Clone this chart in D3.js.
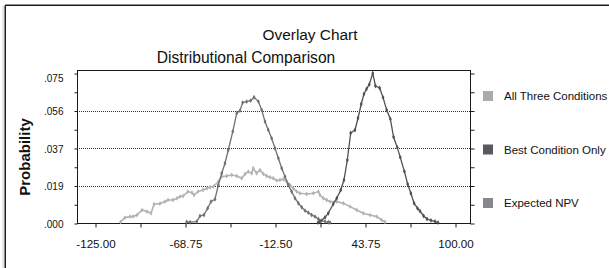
<!DOCTYPE html>
<html><head><meta charset="utf-8">
<script src="https://cdn.jsdelivr.net/npm/d3@7"></script>
<style>
html,body{margin:0;padding:0;background:#fff;}
svg{display:block;font-family:"Liberation Sans",Arial,sans-serif;}
</style></head>
<body>
<svg id="chart" width="609" height="268"></svg>
<script>
// ---------- data ----------
const chartTitle = "Overlay Chart";
const chartSubtitle = "Distributional Comparison";
const yAxisTitle = "Probability";
const seriesNames = ["All Three Conditions", "Best Condition Only", "Expected NPV"];
const xTickValues = [-125, -96.875, -68.75, -40.625, -12.5, 15.625, 43.75, 71.875, 100];
const xTickLabels = ["-125.00", "-68.75", "-12.50", "43.75", "100.00"];
const yTickValues = [0, 0.009375, 0.01875, 0.028125, 0.0375, 0.046875, 0.05625, 0.065625, 0.075];
const yTickLabels = [".000", ".019", ".037", ".056", ".075"];
const gridValues = [0.01875, 0.0375, 0.05625];

// All Three Conditions: [value, probability]
const allThree = [
 [-109,0.0005],[-106.25,0.0027],[-103.1,0.0032],[-101.25,0.0032],[-98.75,0.004],[-95.6,0.0065],
 [-92.5,0.0057],[-90,0.0049],[-88.1,0.0094],[-84.4,0.0097],[-81.25,0.0107],[-79.4,0.0115],
 [-76.25,0.0115],[-73.75,0.0124],[-71.9,0.0132],[-70,0.0135],[-66.9,0.0157],[-64.4,0.0152],
 [-63.1,0.014],[-60.6,0.0157],[-57.5,0.0165],[-55,0.0174],[-53.1,0.0179],[-51.1,0.0182],
 [-47.9,0.0207],[-45.8,0.0232],[-42.7,0.0235],[-39.6,0.024],[-36.4,0.0235],[-33.3,0.0224],
 [-31.25,0.0245],[-29.2,0.0257],[-27.1,0.0249],[-26.1,0.0274],[-24,0.0249],[-21.9,0.0265],
 [-19.8,0.0245],[-17.7,0.0235],[-15.6,0.0229],[-13.6,0.0224],[-11.4,0.0212],[-9.4,0.0215],
 [-7.3,0.0219],[-5.2,0.0207],[-3.1,0.019],[-1.1,0.0174],[1.1,0.0157],[3.1,0.0149],
 [7.3,0.0145],[11.4,0.0149],[14.6,0.0157],[15.6,0.014],[17.7,0.0124],[19.8,0.0115],
 [21.9,0.0107],[26.1,0.0107],[30.2,0.0099],[34.4,0.0082],[38.6,0.0065],[42.7,0.0049],
 [46.9,0.004],[51.1,0.0032],[54.2,0.0015],[56.25,0.0005]
];
// Best Condition Only
const bestOnly = [
 [14.4,0.0002],[15.6,0.0007],[18.75,0.0028],[20.8,0.0049],[23.9,0.0095],[26.1,0.0124],
 [28.6,0.0165],[30.6,0.0215],[32.7,0.0315],[34.8,0.045],[37.5,0.0465],[39.4,0.0525],
 [41.4,0.0595],[43.1,0.0645],[44.7,0.067],[46.4,0.0693],[48.6,0.0749],[50.3,0.0685],
 [52.9,0.0675],[55,0.0628],[57.3,0.0565],[59.6,0.052],[61.6,0.043],[63.9,0.0378],
 [65.8,0.0328],[68.4,0.0257],[70.4,0.0195],[72.4,0.0149],[74.4,0.0099],[76.6,0.0073],
 [78.1,0.006],[80.4,0.0035],[82.5,0.002],[85,0.0013],[87.5,0.0008],[89.4,0.0002]
];
// Expected NPV
const expectedNPV = [
 [-67.7,0.0005],[-65.6,0.0004],[-61.4,0.0007],[-59.4,0.0035],[-56.9,0.004],[-54.6,0.0074],
 [-52.5,0.0107],[-50,0.0119],[-47.9,0.019],[-45.8,0.0249],[-43.75,0.0299],[-41.7,0.0365],
 [-38.9,0.0457],[-36.4,0.0549],[-34.4,0.0562],[-32.7,0.0602],[-30.2,0.0607],[-27.7,0.0612],
 [-25.6,0.0629],[-22.9,0.0607],[-20.8,0.0565],[-18.75,0.0507],[-16.7,0.0465],[-14.6,0.0424],
 [-12.5,0.0374],[-10.4,0.0324],[-8.3,0.0274],[-6.25,0.0232],[-4.2,0.019],[-2.1,0.0157],
 [0,0.0124],[2.1,0.0099],[4.2,0.0079],[6.25,0.0062],[8.3,0.0052],[10.4,0.004],
 [12.5,0.0032],[14.6,0.002],[16.7,0.0012],[18.75,0.0007],[20.8,0.0004],[21.9,0.0002]
];

// ---------- layout ----------
const legendColors = ["#aaaaaa", "#58585e", "#86868c"];
const lineColors = ["#b2b2b2", "#505055", "#707075"];
const plot = {left: 77, right: 470, top: 70, bottom: 223};

const svg = d3.select("#chart");

// outer frame (top & left only visible)
svg.append("line").attr("x1",5.25).attr("x2",609).attr("y1",5.25).attr("y2",5.25)
  .attr("stroke","#1a1a1a").attr("stroke-width",1.5);
svg.append("line").attr("x1",5.25).attr("x2",5.25).attr("y1",5.25).attr("y2",268)
  .attr("stroke","#1a1a1a").attr("stroke-width",1.5);
svg.append("line").attr("x1",3).attr("x2",3).attr("y1",6).attr("y2",268)
  .attr("stroke","#d0d0d0").attr("stroke-width",1);

const x = d3.scaleLinear().domain([-125, 100]).range([95, 455]);
const y = d3.scaleLinear().domain([0, 0.075]).range([223, 73]);

// titles
svg.append("text").attr("x",310).attr("y",39.5).attr("text-anchor","middle")
  .attr("font-size",15.4).attr("fill","#111").text(chartTitle);
svg.append("text").attr("x",246).attr("y",63).attr("text-anchor","middle")
  .attr("font-size",15.6).attr("fill","#111").text(chartSubtitle);

// y axis title
svg.append("text").attr("transform","translate(30,157) rotate(-90)")
  .attr("text-anchor","middle").attr("font-size",15).attr("font-weight","bold")
  .attr("fill","#111").text(yAxisTitle);

// gridlines
svg.append("g").selectAll("line").data(gridValues).join("line")
  .attr("x1",plot.left).attr("x2",plot.right)
  .attr("y1",d=>Math.round(y(d))+0.5).attr("y2",d=>Math.round(y(d))+0.5)
  .attr("stroke","#333").attr("stroke-width",1).attr("stroke-dasharray","1,1");

// plot frame
svg.append("rect").attr("x",plot.left+0.5).attr("y",plot.top+0.5)
  .attr("width",plot.right-plot.left).attr("height",plot.bottom-plot.top)
  .attr("fill","none").attr("stroke","#1a1a1a").attr("stroke-width",1);

// x axis
const xAxis = d3.axisBottom(x).tickValues(xTickValues).tickSize(4).tickSizeOuter(0)
  .tickFormat((d,i)=> i%2===0 ? xTickLabels[i/2] : "");
const gx = svg.append("g").attr("transform",`translate(0.5,${plot.bottom+0.5})`).call(xAxis);
gx.select(".domain").remove();
gx.selectAll(".tick line").attr("stroke","#1a1a1a");
gx.selectAll(".tick text").attr("y",24.5).attr("dy",0).attr("font-size",11.6)
  .attr("font-family","Liberation Sans, Arial, sans-serif").attr("fill","#111");

// y axis left
const yAxis = d3.axisLeft(y).tickValues(yTickValues).tickSize(3).tickSizeOuter(0)
  .tickFormat((d,i)=> i%2===0 ? yTickLabels[i/2] : "");
const gy = svg.append("g").attr("transform",`translate(${plot.left+0.5},0.5)`).call(yAxis);
gy.select(".domain").remove();
gy.selectAll(".tick line").attr("stroke","#1a1a1a");
gy.selectAll(".tick text").attr("x",-14).attr("font-size",10)
  .attr("font-family","Liberation Sans, Arial, sans-serif").attr("fill","#111")
  .attr("dy", (d,i)=> i===yTickValues.length-1 ? "0.75em" : "0.35em");

// y axis right
const yAxisR = d3.axisRight(y).tickValues(yTickValues).tickSize(4).tickSizeOuter(0).tickFormat("");
const gyr = svg.append("g").attr("transform",`translate(${plot.right+0.5},0.5)`).call(yAxisR);
gyr.select(".domain").remove();
gyr.selectAll(".tick line").attr("stroke","#1a1a1a");

// series
const line = d3.line().x(d=>x(d[0])).y(d=>y(d[1]));
const seriesData = [allThree, expectedNPV, bestOnly];
const seriesCol = [lineColors[0], lineColors[2], lineColors[1]];
const diamond = d3.symbol().type(d3.symbolDiamond).size(7);
seriesData.forEach((data, k) => {
  const g = svg.append("g");
  g.append("path").datum(data).attr("d", line).attr("fill","none")
    .attr("stroke", seriesCol[k]).attr("stroke-width", k===0 ? 1.6 : 1.3);
  g.selectAll("path.m").data(data).join("path").attr("class","m")
    .attr("d", diamond).attr("transform", d=>`translate(${x(d[0])},${y(d[1])})`)
    .attr("fill", seriesCol[k]);
});

// legend
const legendY = [96, 149.5, 203];
const lg = svg.append("g");
seriesNames.forEach((name, i) => {
  lg.append("rect").attr("x",483).attr("y",legendY[i]-5).attr("width",10).attr("height",10)
    .attr("fill", legendColors[i]);
  lg.append("text").attr("x",504).attr("y",legendY[i]).attr("dy","0.36em")
    .attr("font-size",11.5).attr("fill","#111").text(name);
});
</script>
</body></html>
